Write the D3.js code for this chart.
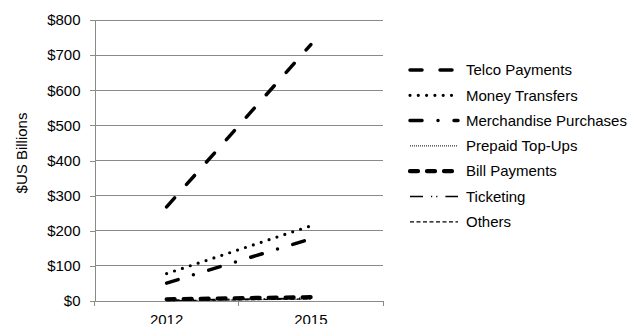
<!DOCTYPE html>
<html><head><meta charset="utf-8">
<script src="https://cdn.jsdelivr.net/npm/d3@7/dist/d3.min.js"></script>
<style>body{margin:0;background:#fff}text{font-family:"Liberation Sans",Arial,sans-serif;fill:#000}</style>
</head><body><svg id="c" width="644" height="324"></svg>
<script>
const years = ["2012", "2015"];
const seriesNames = ["Telco Payments","Money Transfers","Merchandise Purchases","Prepaid Top-Ups","Bill Payments","Ticketing","Others"];
const telco = [268, 730];
const money = [78, 214];
const merch = [51, 177];
const prepaid = [1, 5];
const bill = [5, 11];
const ticketing = [2, 8];
const others = [1, 6];
const yTicks = [0,100,200,300,400,500,600,700,800];
const values = [telco, money, merch, prepaid, bill, ticketing, others];
const styles = [
  {w:3.5, d:"12,18", cap:"round"},
  {w:3.2, d:"0,8.3", cap:"round"},
  {w:3.5, d:"12,16,0,16", cap:"round"},
  {w:1, d:"1,1", cap:"butt"},
  {w:4.2, d:"8,9", cap:"round"},
  {w:1.6, d:"13,8,1.2,4,1.2,8", cap:"butt"},
  {w:1.2, d:"4,2.5", cap:"butt"}
];
const FS = 15;
const svg = d3.select("#c");
const L=94.5, R=383, T=20, B=301;
const x = d3.scaleBand().domain(years).range([L,R]);
const y = d3.scaleLinear().domain([0,800]).range([B,T]);
const grid = "#8a8a8a";
// gridlines
svg.append("g").selectAll("line").data(yTicks.filter(v=>v>0)).join("line")
  .attr("x1",L).attr("x2",R).attr("y1",d=>y(d)).attr("y2",d=>y(d))
  .attr("stroke",grid).attr("stroke-width",1).attr("shape-rendering","crispEdges");
// y axis
const ya = svg.append("g").attr("transform",`translate(${L},0)`)
  .call(d3.axisLeft(y).tickValues(yTicks).tickSize(5).tickPadding(9).tickFormat(d=>"$"+d));
ya.select(".domain").attr("stroke",grid).attr("shape-rendering","crispEdges");
ya.selectAll(".tick line").attr("stroke",grid).attr("shape-rendering","crispEdges");
ya.selectAll("text").attr("font-size",FS).attr("font-family","Liberation Sans, Arial, sans-serif");
// x axis
const xa = svg.append("g").attr("transform",`translate(0,${B})`)
  .call(d3.axisBottom(x).tickSize(0).tickPadding(0));
xa.select(".domain").remove();
xa.selectAll("text").attr("font-size",FS).attr("dy",null).attr("y",24).attr("font-family","Liberation Sans, Arial, sans-serif");
svg.append("line").attr("x1",L).attr("x2",R).attr("y1",B).attr("y2",B).attr("stroke",grid).attr("shape-rendering","crispEdges");
const bounds=[L, x(years[1]), R];
svg.append("g").selectAll("line").data(bounds).join("line")
  .attr("x1",d=>d).attr("x2",d=>d).attr("y1",B).attr("y2",B+5)
  .attr("stroke",grid).attr("shape-rendering","crispEdges");
// y title
svg.append("text").attr("transform","translate(27,153) rotate(-90)").attr("text-anchor","middle")
  .attr("font-size",FS).text("$US Billions");
// lines
const line = d3.line().x((d,i)=>x(years[i])+x.bandwidth()/2).y(d=>y(d));
values.forEach((v,i)=>{
  svg.append("path").attr("d",line(v)).attr("fill","none").attr("stroke","#000")
    .attr("stroke-width",styles[i].w).attr("stroke-dasharray",styles[i].d).attr("stroke-linecap",styles[i].cap);
});
// legend
const lg = svg.append("g");
seriesNames.forEach((n,i)=>{
  const yy = 70 + i*25.3;
  lg.append("line").attr("x1",410).attr("x2",458).attr("y1",yy).attr("y2",yy)
    .attr("stroke","#000").attr("stroke-width",styles[i].w).attr("stroke-dasharray",styles[i].d).attr("stroke-linecap",styles[i].cap);
  lg.append("text").attr("x",466).attr("y",yy).attr("dy","0.35em").attr("font-size",FS).text(n);
});
</script></body></html>
